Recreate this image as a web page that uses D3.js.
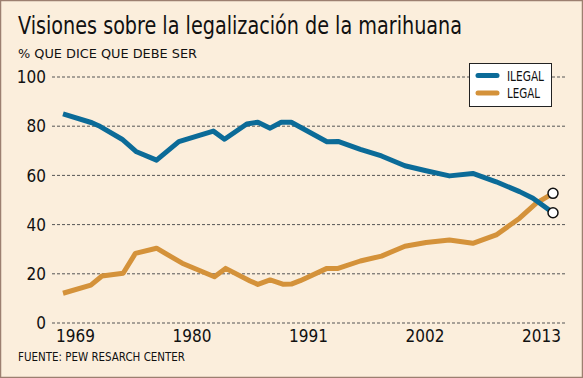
<!DOCTYPE html>
<html>
<head>
<meta charset="utf-8">
<script src="https://cdn.jsdelivr.net/npm/d3@7"></script>
<style>
  body { margin: 0; background: #fbeedc; }
  svg { display: block; font-family: "DejaVu Sans Condensed", "DejaVu Sans", sans-serif; }
</style>
</head>
<body>
<div id="my_dataviz"></div>
<script>
// data (years are approximate positions)
var yearsIlegal = [1969, 1971.6, 1972.2, 1974.3, 1975.6, 1977.4, 1979.4, 1982.5, 1983.5, 1985.5, 1986.5, 1987.6, 1988.6, 1989.5, 1992.7, 1993.7, 1995.7, 1997.6, 1999.7, 2001.6, 2003.7, 2005.8, 2007.9, 2010, 2011.2, 2013];
var ilegal      = [84.8, 81.2, 80, 74.5, 69.4, 66, 73.5, 77.8, 74.5, 80.7, 81.4, 79, 81.4, 81.4, 73.5, 73.6, 70.4, 67.7, 63.7, 61.7, 59.6, 60.6, 57.2, 53.2, 50.5, 44.6];

var yearsLegal = [1969, 1971.5, 1972.5, 1974.4, 1975.5, 1977.4, 1979.7, 1982.6, 1983.6, 1985.8, 1986.5, 1987.6, 1988.8, 1989.5, 1990.3, 1992.7, 1993.7, 1995.7, 1997.6, 1999.7, 2001.6, 2003.7, 2005.8, 2007.9, 2010, 2011.5, 2013];
var legal      = [11.9, 15.2, 18.9, 20, 28.1, 30.2, 24.1, 18.6, 22, 16.9, 15.5, 17.3, 15.5, 15.6, 17, 22, 22, 25, 27, 31, 32.5, 33.5, 32.2, 35.6, 42.4, 48.5, 52.5];

var yTicks = [0, 20, 40, 60, 80, 100];
var xTicks = [1969, 1980, 1991, 2002, 2013];
var seriesNames = ["ILEGAL", "LEGAL"];

var width = 583, height = 378;
var colIlegal = "#0b6b98", colLegal = "#d4923a";

var svg = d3.select("#my_dataviz")
  .append("svg")
    .attr("width", width)
    .attr("height", height);

// frame
svg.append("rect")
    .attr("x", 0.5).attr("y", 0.5)
    .attr("width", width - 1).attr("height", height - 1)
    .attr("fill", "#fbeedc")
    .attr("stroke", "#9c7f70")
    .attr("stroke-width", 1.5);

// titles (the original face is narrower, so squeeze to its width)
svg.append("text")
    .attr("x", 18).attr("y", 34)
    .attr("font-size", 25)
    .attr("fill", "#111")
    .attr("textLength", 444)
    .attr("lengthAdjust", "spacingAndGlyphs")
    .text("Visiones sobre la legalización de la marihuana");

svg.append("text")
    .attr("x", 18).attr("y", 58)
    .attr("font-size", 13)
    .attr("fill", "#111")
    .attr("textLength", 179)
    .attr("lengthAdjust", "spacingAndGlyphs")
    .text("% QUE DICE QUE DEBE SER");

svg.append("text")
    .attr("x", 18).attr("y", 360.5)
    .attr("font-size", 13)
    .attr("fill", "#111")
    .attr("textLength", 167)
    .attr("lengthAdjust", "spacingAndGlyphs")
    .text("FUENTE: PEW RESARCH CENTER");

// scales
var xScale = d3.scaleLinear().domain([1969, 2013]).range([63, 553]);
// tick labels sit a bit inward from the data ends
var xLabel = d3.scaleLinear().domain([1969, 2013]).range([75, 541]);
var yScale = d3.scaleLinear().domain([0, 100]).range([322.5, 76.5]);

// y axis with dashed gridlines
var gy = svg.append("g")
    .attr("transform", "translate(52,0)")
    .call(d3.axisLeft(yScale).tickValues(yTicks).tickSize(-513).tickPadding(6));
gy.select(".domain").remove();
gy.selectAll("line")
    .attr("stroke", "#555")
    .attr("stroke-width", 1)
    .attr("stroke-dasharray", "3,2");
gy.selectAll("text")
    .attr("font-size", 17)
    .attr("font-family", "DejaVu Sans Condensed, sans-serif")
    .attr("fill", "#111")
    .attr("dy", "0.36em");

// x axis labels only
var gx = svg.append("g")
    .attr("transform", "translate(0,330)")
    .call(d3.axisBottom(xLabel).tickValues(xTicks).tickSize(0).tickPadding(0).tickFormat(d3.format("d")));
gx.select(".domain").remove();
gx.selectAll("text")
    .attr("font-size", 17)
    .attr("font-family", "DejaVu Sans Condensed, sans-serif")
    .attr("fill", "#111")
    .attr("dy", "0.71em");

// lines
var line = d3.line()
    .x(function(d) { return xScale(d[0]); })
    .y(function(d) { return yScale(d[1]); });

var dataIlegal = d3.zip(yearsIlegal, ilegal);
var dataLegal = d3.zip(yearsLegal, legal);

svg.append("path")
    .attr("fill", "none")
    .attr("stroke", colLegal)
    .attr("stroke-width", 5)
    .attr("stroke-linejoin", "round")
    .attr("d", line(dataLegal));

svg.append("path")
    .attr("fill", "none")
    .attr("stroke", colIlegal)
    .attr("stroke-width", 5)
    .attr("stroke-linejoin", "round")
    .attr("d", line(dataIlegal));

// end markers
[dataIlegal[dataIlegal.length - 1], dataLegal[dataLegal.length - 1]].forEach(function(d) {
  svg.append("circle")
      .attr("r", 5)
      .attr("cx", xScale(d[0]))
      .attr("cy", yScale(d[1]))
      .attr("fill", "white")
      .attr("stroke", "#111")
      .attr("stroke-width", 1.5);
});

// legend
var legendWidths = [37, 33];
var lg = svg.append("g").attr("transform", "translate(469,63)");
lg.append("rect")
    .attr("x", 0.5).attr("y", 0.5)
    .attr("width", 82).attr("height", 43)
    .attr("fill", "white")
    .attr("stroke", "#222")
    .attr("stroke-width", 1);
seriesNames.forEach(function(name, i) {
  lg.append("line")
      .attr("x1", 9).attr("x2", 28)
      .attr("y1", 12.5 + i * 17.5).attr("y2", 12.5 + i * 17.5)
      .attr("stroke", i == 0 ? colIlegal : colLegal)
      .attr("stroke-width", 5)
      .attr("stroke-linecap", "round");
  lg.append("text")
      .attr("x", 38).attr("y", 17.5 + i * 17.5)
      .attr("font-size", 14)
      .attr("fill", "#111")
      .attr("textLength", legendWidths[i])
      .attr("lengthAdjust", "spacingAndGlyphs")
      .text(name);
});
</script>
</body>
</html>
